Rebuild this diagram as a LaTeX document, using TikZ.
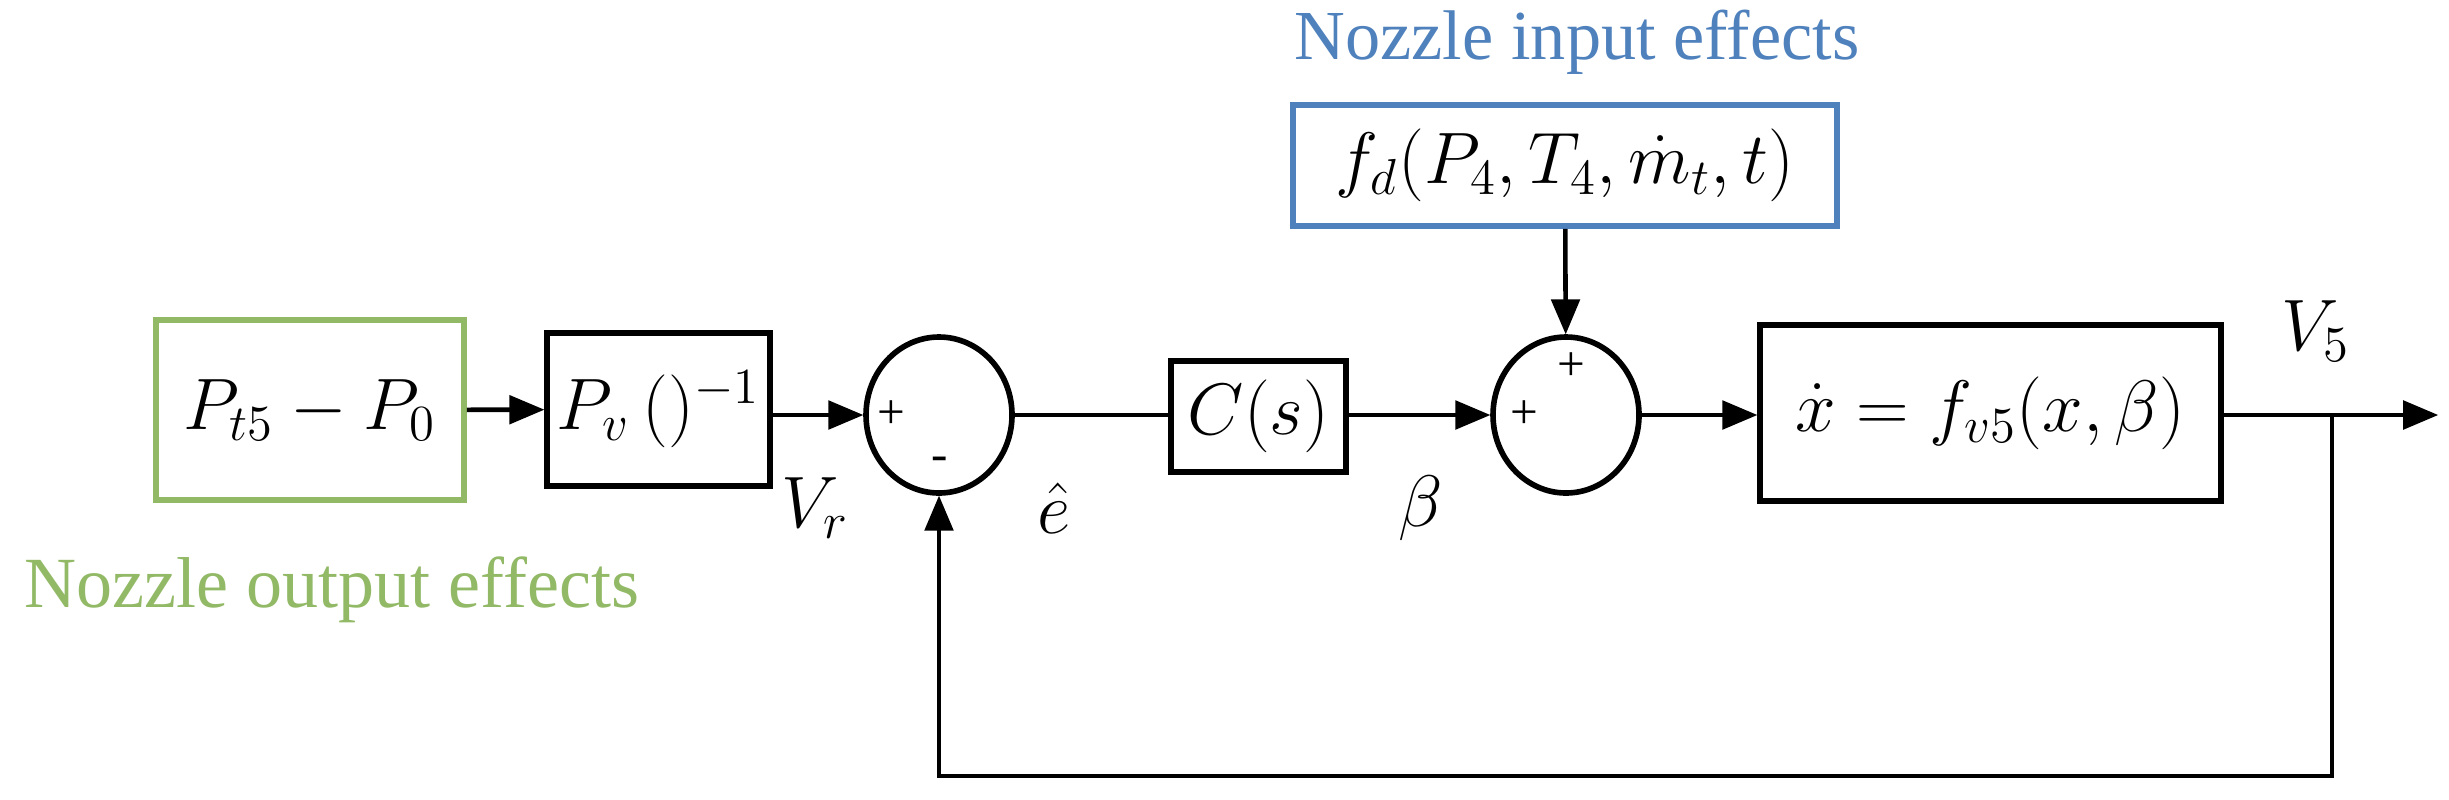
\documentclass[tikz,border=0pt]{standalone}
\usepackage{fontspec}
\setmainfont{Liberation Serif}
\usetikzlibrary{arrows,shapes.geometric}
\definecolor{verde}{RGB}{146,185,102}
\definecolor{azul}{RGB}{79,129,189}
\begin{document}
\begin{tikzpicture}
\tikzstyle{bloque}=[draw,line width=1.6pt,inner sep=0pt,font=\fontsize{21}{24}\selectfont]
\tikzstyle{suma}=[draw,ellipse,line width=1.6pt,minimum width=1.46cm,minimum height=1.56cm,inner sep=0pt]
\tikzstyle{flecha}=[line width=1.3pt,-triangle 45]
\tikzstyle{etiqueta}=[font=\fontsize{21}{24}\selectfont]
\tikzstyle{signo}=[font=\fontsize{14}{16}\selectfont,inner sep=0pt]

\useasboundingbox (0,0) rectangle (24.49,-7.99);

\node[bloque,draw=verde,minimum width=3.08cm,minimum height=1.8cm] (pres) at (3.10,-4.10) {$P_{t5}-P_0$};
\node[bloque,minimum width=2.23cm,minimum height=1.53cm] (inv) at (6.585,-4.095) {$P_v\,()^{-1}$};
\node[suma] (s1) at (9.39,-4.15) {};
\node[bloque,minimum width=1.75cm,minimum height=1.11cm] (ctrl) at (12.585,-4.165) {$C(s)$};
\node[suma] (s2) at (15.66,-4.15) {};
\node[bloque,draw=azul,minimum width=5.44cm,minimum height=1.21cm] (dist) at (15.65,-1.655) {$f_d(P_4,T_4,\dot m_t,t)$};
\node[bloque,minimum width=4.61cm,minimum height=1.76cm] (planta) at (19.905,-4.13) {$\dot x = f_{v5}(x,\beta)$};

\node[signo] at (8.91,-4.15) {+};
\node[signo] at (9.40,-4.64) {-};
\node[signo] at (15.24,-4.15) {+};
\node[signo] at (15.71,-3.67) {+};

\node[etiqueta] at (8.15,-5.08) {$V_r$};
\node[etiqueta] at (10.54,-5.08) {$\hat e$};
\node[etiqueta] at (14.21,-5.08) {$\beta$};
\node[etiqueta] at (23.16,-3.31) {$V_5$};

\node[font=\fontsize{20.5}{24}\selectfont,text=verde] (txtsal) at (3.32,-5.90) {Nozzle output effects};
\node[font=\fontsize{20}{24}\selectfont,text=azul] (txtent) at (15.77,-0.42) {Nozzle input effects};

\coordinate (rama) at (23.32,-4.15);
\coordinate (salida) at (24.38,-4.15);
\coordinate (abajo) at (23.32,-7.76);
\coordinate (retorno) at (9.39,-7.76);

\draw[flecha] (pres) -- (inv);
\draw[flecha] (inv.east |- s1) -- (s1);
\draw[line width=1.3pt] (s1) -- (ctrl.west |- s1);
\draw[flecha] (ctrl.east |- s2) -- (s2);
\draw[flecha] (dist) -- (s2);
\draw[flecha] (s2) -- (planta.west |- s2);
\draw[flecha] (planta.east |- rama) -- (salida);
\draw[flecha] (rama) -- (abajo) -- (retorno) -- (s1);
\end{tikzpicture}
\end{document}
